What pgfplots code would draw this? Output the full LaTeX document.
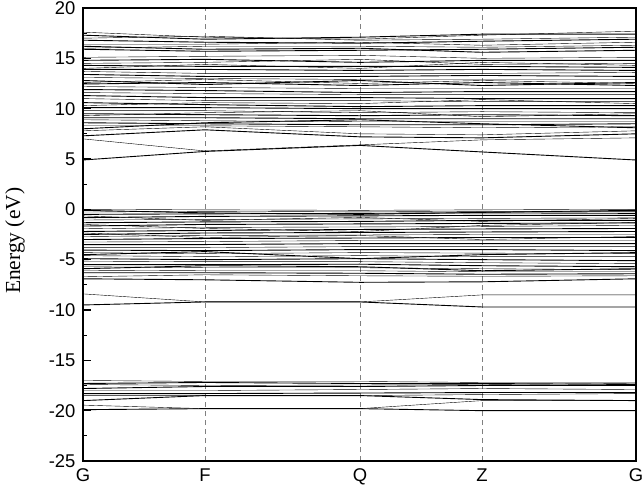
\documentclass[border=0pt]{standalone}
\usepackage{pgfplots}
\pgfplotsset{compat=1.18}
\usepackage{fontspec}
\setmainfont{Liberation Sans}
\newfontfamily\serifff{Liberation Serif}
\usetikzlibrary{calc}
\newcommand\band[5]{\addplot coordinates {(0,#1)(122,#2)(277,#3)(399,#4)(553,#5)};}
\begin{document}
\begin{tikzpicture}
\begin{axis}[
 scale only axis, width=553bp, height=453bp,
 xmin=0, xmax=553, ymin=-25, ymax=20,
 xtick={0,122,277,399,553}, xticklabels={G,F,Q,Z,G},
 ytick={-25,-20,...,20}, minor y tick num=1,
 ytick pos=left, tick align=inside,
 major tick length=8bp, minor tick length=4bp,
 x tick style={draw=none},
 xmajorgrids, grid style={gray, dash pattern=on 5bp off 4bp, line width=0.8bp},
 axis line style={line width=1.2bp},
 tick style={line width=1.2bp, black},
 tick label style={font=\fontsize{18.5}{21}\selectfont},
 xticklabel style={yshift=-4bp},
 yticklabel style={xshift=-4bp},
 /pgf/number format/assume math mode=true,
 ylabel={\serifff Energy (eV)},
 ylabel style={font=\fontsize{21.5}{24}\selectfont, at={(rel axis cs:0,0.486)}, anchor=center, rotate=0, yshift=68bp},
 no markers,
 cycle list={{black,line width=0.9bp}},
]
% conduction bands
\band{17.6}{17.1}{16.9}{17.3}{17.7}
\band{17.3}{16.9}{17.1}{17.4}{17.4}
\band{17.0}{17.2}{16.8}{16.9}{17.1}
\band{16.8}{16.6}{16.5}{16.7}{16.9}
\band{16.4}{16.4}{16.6}{16.3}{16.6}
\band{16.2}{15.9}{16.0}{15.6}{15.8}
\band{16.0}{16.2}{16.2}{16.1}{16.3}
\band{15.9}{15.7}{15.8}{15.9}{16.1}
\band{15.1}{15.2}{15.3}{15.0}{15.1}
\band{14.8}{14.9}{14.6}{14.8}{14.8}
\band{14.5}{14.6}{14.9}{14.4}{14.5}
\band{14.3}{14.2}{14.2}{14.2}{14.1}
\band{14.0}{14.4}{14.0}{14.6}{14.3}
\band{13.9}{13.9}{13.8}{13.9}{13.8}
\band{13.7}{13.5}{13.5}{13.5}{13.6}
\band{13.4}{13.2}{13.2}{13.3}{13.2}
\band{13.1}{13.0}{12.9}{12.9}{12.9}
\band{12.8}{12.4}{12.8}{12.3}{12.6}
\band{12.6}{12.9}{12.5}{12.8}{12.5}
\band{12.45}{12.6}{12.3}{12.6}{12.3}
\band{12.2}{12.1}{12.0}{12.0}{12.0}
\band{11.9}{11.8}{11.6}{11.7}{11.7}
\band{11.6}{11.5}{11.4}{11.4}{11.4}
\band{11.3}{11.1}{11.1}{11.0}{11.0}
\band{11.0}{10.8}{10.8}{10.7}{10.7}
\band{10.6}{10.4}{10.2}{10.3}{10.3}
\band{10.3}{10.6}{10.5}{10.9}{10.5}
\band{10.1}{10.1}{10.0}{10.0}{10.0}
\band{9.8}{9.8}{9.6}{9.7}{9.6}
\band{9.5}{9.4}{9.3}{9.4}{9.3}
\band{9.3}{9.6}{9.8}{9.2}{9.5}
\band{9.1}{9.1}{9.0}{9.0}{9.0}
\band{8.9}{8.8}{8.7}{8.7}{8.7}
\band{8.6}{8.5}{8.4}{8.4}{8.5}
\band{8.3}{8.3}{8.2}{8.1}{8.2}
\band{8.0}{8.6}{8.9}{8.5}{8.1}
\band{7.8}{8.2}{7.5}{7.4}{7.8}
\band{7.3}{7.9}{7.2}{7.1}{7.5}
\band{7.0}{5.8}{6.4}{6.9}{7.1}
\band{4.9}{5.75}{6.35}{5.7}{4.9}
% valence bands
\band{0.0}{-0.05}{-0.1}{-0.05}{0.0}
\band{-0.1}{-0.35}{-0.5}{-0.3}{-0.1}
\band{-0.27}{-0.2}{-0.25}{-0.2}{-0.2}
\band{-0.5}{-0.45}{-0.4}{-0.35}{-0.4}
\band{-0.65}{-1.1}{-0.8}{-1.2}{-0.9}
\band{-0.83}{-0.7}{-0.65}{-0.6}{-0.6}
\band{-1.06}{-1.0}{-0.95}{-0.9}{-0.85}
\band{-1.33}{-1.25}{-1.2}{-1.1}{-1.1}
\band{-1.5}{-1.9}{-2.2}{-1.6}{-1.3}
\band{-1.66}{-1.5}{-1.45}{-1.4}{-1.35}
\band{-1.93}{-1.8}{-1.75}{-1.7}{-1.6}
\band{-2.2}{-2.1}{-2.0}{-1.95}{-1.9}
\band{-2.35}{-2.8}{-2.6}{-3.0}{-2.7}
\band{-2.5}{-2.35}{-2.3}{-2.25}{-2.2}
\band{-2.7}{-2.6}{-2.55}{-2.5}{-2.5}
\band{-3.0}{-2.9}{-2.85}{-2.8}{-2.8}
\band{-3.25}{-3.2}{-3.1}{-3.1}{-3.1}
\band{-3.5}{-3.5}{-3.4}{-3.4}{-3.4}
\band{-3.8}{-3.8}{-3.7}{-3.7}{-3.7}
\band{-4.05}{-4.1}{-4.0}{-4.0}{-4.1}
\band{-4.3}{-4.4}{-4.3}{-4.35}{-4.4}
\band{-4.5}{-4.2}{-4.9}{-4.5}{-4.3}
\band{-4.6}{-4.7}{-4.6}{-4.7}{-4.7}
\band{-4.9}{-5.0}{-4.9}{-5.0}{-5.1}
\band{-5.15}{-5.2}{-5.2}{-5.3}{-5.4}
\band{-5.5}{-5.5}{-5.45}{-5.6}{-5.7}
\band{-5.7}{-5.8}{-5.8}{-5.9}{-6.0}
\band{-5.9}{-5.6}{-5.7}{-6.1}{-5.9}
\band{-6.05}{-6.1}{-6.1}{-6.2}{-6.2}
\band{-6.3}{-6.3}{-6.35}{-6.45}{-6.4}
\band{-6.7}{-6.5}{-6.6}{-6.65}{-6.6}
\band{-6.9}{-7.0}{-7.25}{-7.2}{-6.9}
% isolated bands near -9
\band{-8.4}{-9.2}{-9.2}{-8.5}{-8.5}
\band{-9.5}{-9.2}{-9.2}{-9.7}{-9.7}
% deep bands
\band{-17.0}{-17.1}{-17.1}{-17.2}{-17.2}
\band{-17.3}{-17.2}{-17.3}{-17.3}{-17.4}
\band{-17.4}{-17.5}{-17.45}{-17.4}{-17.3}
\band{-17.8}{-17.6}{-17.6}{-17.5}{-17.5}
\band{-18.0}{-18.0}{-17.9}{-17.8}{-17.9}
\band{-18.3}{-18.3}{-18.25}{-18.2}{-18.2}
\band{-18.5}{-18.5}{-18.5}{-18.4}{-18.3}
\band{-19.0}{-18.5}{-18.5}{-18.9}{-19.0}
\band{-19.45}{-19.8}{-19.8}{-19.0}{-19.0}
\band{-19.9}{-19.8}{-19.8}{-20.0}{-20.0}
\end{axis}
\pgfresetboundingbox
\path ($(current axis.south west)+(-83bp,-26bp)$) rectangle ($(current axis.north east)+(6bp,8bp)$);
\end{tikzpicture}
\end{document}
